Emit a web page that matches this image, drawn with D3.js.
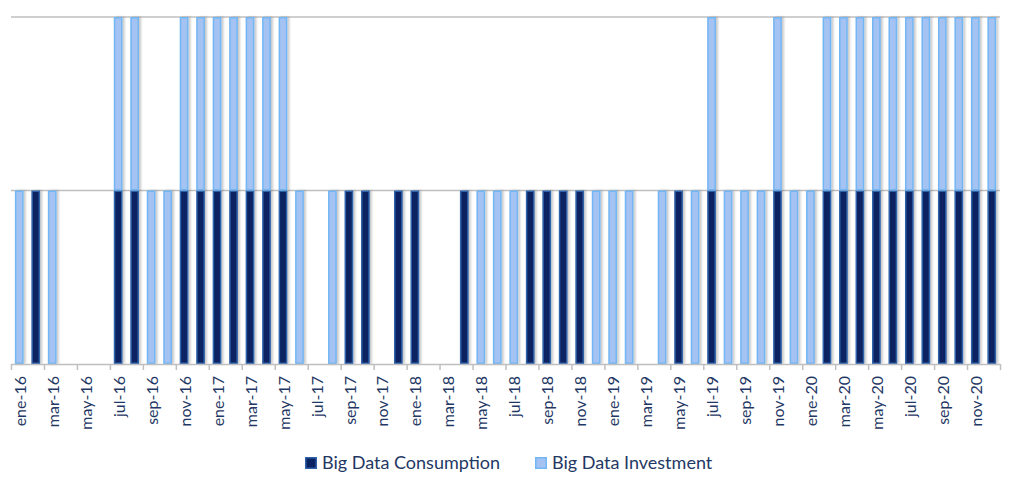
<!DOCTYPE html>
<html>
<head>
<meta charset="utf-8">
<script src="https://cdn.jsdelivr.net/npm/d3@7"></script>
<style>
  body { margin: 0; background: #fff; }
  text { font-family: Lato, "Open Sans", sans-serif; fill: #1f3864; }
</style>
</head>
<body>
<svg id="svg1"></svg>
<script>
// data: monthly flags, ene-16 .. dic-20
const monthNames = ['ene','feb','mar','abr','may','jun','jul','ago','sep','oct','nov','dic'];
const years = ['16','17','18','19','20'];
const categories = years.flatMap(y => monthNames.map(m => m + '-' + y));

const seriesNames = ['Big Data Consumption', 'Big Data Investment'];
const consumption = [
  0,1,0,0,0,0,1,1,0,0,1,1,   // 2016
  1,1,1,1,1,0,0,0,1,1,0,1,   // 2017
  1,0,0,1,0,0,0,1,1,1,1,0,   // 2018
  0,0,0,0,1,0,1,0,0,0,1,0,   // 2019
  0,1,1,1,1,1,1,1,1,1,1,1    // 2020
];
const investment = [
  1,0,1,0,0,0,1,1,1,1,1,1,
  1,1,1,1,1,1,0,1,0,0,0,0,
  0,0,0,0,1,1,1,0,0,0,0,1,
  1,1,0,1,0,1,1,1,1,1,1,1,
  1,1,1,1,1,1,1,1,1,1,1,1
];
const yTicks = [0, 1, 2];

const width = 1016;
const height = 490;
const margin = {top: 17, right: 16, bottom: 126, left: 11};
const plotW = width - margin.left - margin.right;
const plotH = height - margin.top - margin.bottom;

const svg = d3.select('#svg1')
    .attr('width', width)
    .attr('height', height);

const defs = svg.append('defs');
const shadow = defs.append('filter').attr('id', 'shadow')
    .attr('x', '-20%').attr('y', '-5%').attr('width', '160%').attr('height', '110%');
shadow.append('feDropShadow')
    .attr('dx', 2).attr('dy', 0).attr('stdDeviation', 1.2)
    .attr('flood-color', '#000').attr('flood-opacity', 0.22);

const g = svg.append('g')
    .attr('transform', 'translate(' + margin.left + ',' + margin.top + ')');

const pad = 0.47;
const x = d3.scaleBand()
    .domain(categories)
    .range([0, plotW])
    .paddingInner(pad)
    .paddingOuter(pad / 2);

const xi = d3.scaleLinear()
    .domain([0, categories.length])
    .range([0, plotW]);

const y = d3.scaleLinear()
    .domain([0, 2])
    .range([plotH, 0]);

// gridlines
g.append('g')
  .selectAll('line')
  .data(yTicks.slice(1))
  .enter()
  .append('line')
    .attr('x1', 0)
    .attr('x2', plotW)
    .attr('y1', d => y(d))
    .attr('y2', d => y(d))
    .attr('stroke', '#bfbfbf')
    .attr('stroke-width', 1.5);

// stacked bars
const table = categories.map((c, i) => ({
  month: c,
  'Big Data Consumption': consumption[i],
  'Big Data Investment': investment[i]
}));
const stacked = d3.stack().keys(seriesNames)(table);

const fills = {'Big Data Consumption': '#0b2360', 'Big Data Investment': '#a4c2f2'};
const strokes = {'Big Data Consumption': '#2f62aa', 'Big Data Investment': '#72b6f4'};

const layers = g.append('g').attr('filter', 'url(#shadow)')
  .selectAll('g')
  .data(stacked)
  .enter()
  .append('g')
    .attr('fill', d => fills[d.key])
    .attr('stroke', d => strokes[d.key]);

layers.selectAll('rect')
  .data(d => d.filter(p => p[1] - p[0] > 0))
  .enter()
  .append('rect')
    .attr('x', d => x(d.data.month) + 0.75)
    .attr('y', d => y(d[1]) + 0.75)
    .attr('width', x.bandwidth() - 1.5)
    .attr('height', d => y(d[0]) - y(d[1]) - 1.5)
    .attr('stroke-width', 1.5);

// x axis: tick marks every two months
g.append('g')
    .attr('transform', 'translate(0,' + plotH + ')')
    .call(d3.axisBottom(xi).tickValues(d3.range(0, categories.length + 1, 2)).tickFormat('').tickSize(6).tickSizeOuter(0))
    .call(a => a.selectAll('line, path').attr('stroke', '#bfbfbf').attr('stroke-width', 1.5));

// x axis labels
g.append('g')
    .attr('transform', 'translate(0,' + plotH + ')')
    .call(d3.axisBottom(x).tickValues(categories.filter((c, i) => i % 2 === 0)).tickSize(0))
    .call(a => a.select('.domain').remove())
    .selectAll('text')
    .attr('x', -12)
    .attr('y', 1)
    .attr('dy', '0.35em')
    .attr('transform', 'rotate(-90)')
    .style('text-anchor', 'end')
    .style('font-size', '16px')
    .style('font-family', 'Lato, sans-serif')
    .attr('fill', '#1f3864');

// legend
const legend = svg.append('g').attr('transform', 'translate(305,463)');
const legendX = [0, 230];
seriesNames.forEach((s, i) => {
  const item = legend.append('g').attr('transform', 'translate(' + legendX[i] + ',0)');
  item.append('rect')
      .attr('x', 0.75).attr('y', -5.25)
      .attr('width', 10.5).attr('height', 10.5)
      .attr('fill', fills[s])
      .attr('stroke', strokes[s])
      .attr('stroke-width', 1.5);
  item.append('text')
      .attr('x', 17)
      .attr('y', 0)
      .attr('dy', '0.35em')
      .style('font-size', '18px')
      .text(s);
});
</script>
</body>
</html>
